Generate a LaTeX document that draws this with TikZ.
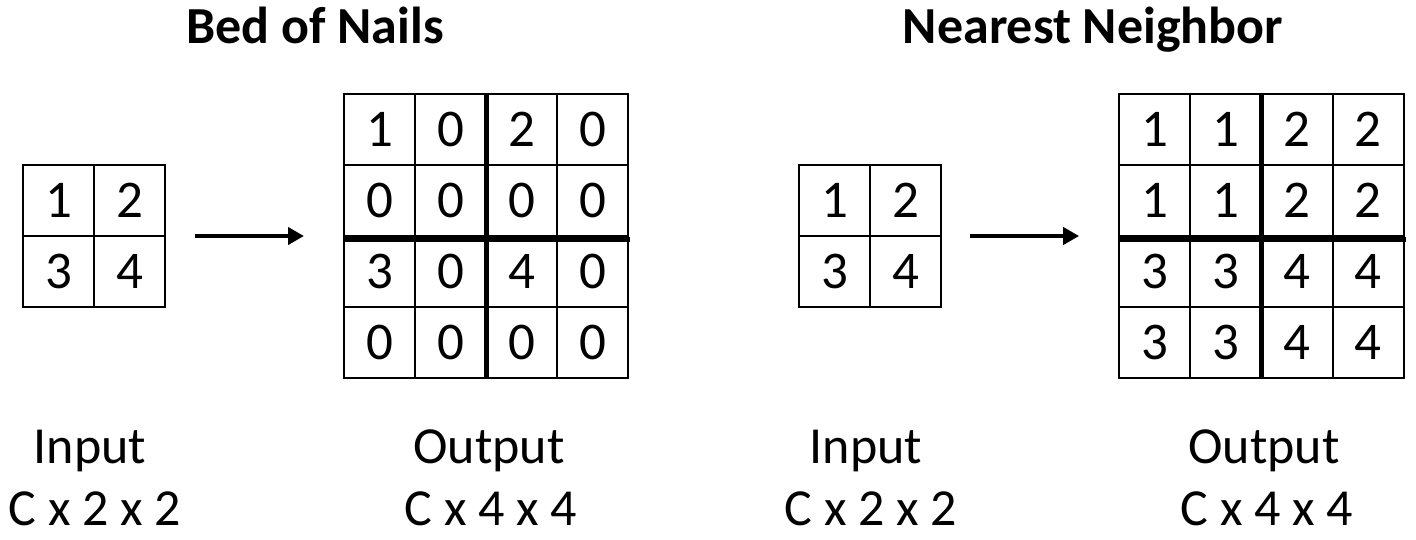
\documentclass[tikz,border=0pt]{standalone}
\usepackage{fontspec}
\setmainfont{Carlito}
\usetikzlibrary{arrows.meta}
\begin{document}
\begin{tikzpicture}[x=1pt,y=-1pt,
  cell/.style={draw,line width=1.5pt,minimum width=71pt,minimum height=71pt,inner sep=0pt,outer sep=0pt,font=\fontsize{53}{63}\selectfont},
  heavyline/.style={line width=5pt},
  lbl/.style={font=\fontsize{52}{63}\selectfont,anchor=base,inner sep=0pt},
  ttl/.style={font=\fontsize{52}{63}\selectfont\bfseries,anchor=base,inner sep=0pt},
  arr/.style={line width=4.5pt,-{Triangle[length=16pt,width=17pt]}}]
\useasboundingbox (0,0) rectangle (1416,539);
% titles
\node[ttl] (t1) at (315,43) {Bed of Nails};
\node[ttl] (t2) at (1093,43) {Nearest Neighbor};
% left input grid
\foreach \v [count=\i from 0] in {1,2,3,4}{
  \pgfmathtruncatemacro\r{int(\i/2)+1}
  \pgfmathtruncatemacro\c{mod(\i,2)+1}
  \node[cell] (a\r\c) at ({23+71*(\c-0.5)},{165+71*(\r-0.5)}) {\v};
}
% left output grid
\foreach \v [count=\i from 0] in {1,0,2,0,0,0,0,0,3,0,4,0,0,0,0,0}{
  \pgfmathtruncatemacro\r{int(\i/4)+1}
  \pgfmathtruncatemacro\c{mod(\i,4)+1}
  \node[cell] (b\r\c) at ({344+71*(\c-0.5)},{94+71*(\r-0.5)}) {\v};
}
\draw[heavyline] (b12.north east) -- (b42.south east);
\draw[heavyline] ([yshift=-3pt]b21.south west) -- ([yshift=-3pt,xshift=2pt]b24.south east);
\draw[arr] ([xshift=30pt]a22.north east) -- ([xshift=-40pt]b31.north west);
% right input grid
\foreach \v [count=\i from 0] in {1,2,3,4}{
  \pgfmathtruncatemacro\r{int(\i/2)+1}
  \pgfmathtruncatemacro\c{mod(\i,2)+1}
  \node[cell] (c\r\c) at ({799+71*(\c-0.5)},{165+71*(\r-0.5)}) {\v};
}
% right output grid
\foreach \v [count=\i from 0] in {1,1,2,2,1,1,2,2,3,3,4,4,3,3,4,4}{
  \pgfmathtruncatemacro\r{int(\i/4)+1}
  \pgfmathtruncatemacro\c{mod(\i,4)+1}
  \node[cell] (d\r\c) at ({1119+71.25*(\c-0.5)},{94+71*(\r-0.5)}) {\v};
}
\draw[heavyline] (d12.north east) -- (d42.south east);
\draw[heavyline] ([yshift=-3pt]d21.south west) -- ([yshift=-3pt,xshift=2pt]d24.south east);
\draw[arr] ([xshift=29pt]c22.north east) -- ([xshift=-40pt]d31.north west);
% labels
\node[lbl] (inA) at (90,463) {Input};
\node[lbl] (dimA) at (95,525) {C x 2 x 2};
\node[lbl] (outA) at (489,463) {Output};
\node[lbl] (dimB) at (491,525) {C x 4 x 4};
\node[lbl] (inB) at (866,463) {Input};
\node[lbl] (dimC) at (871,525) {C x 2 x 2};
\node[lbl] (outB) at (1264,463) {Output};
\node[lbl] (dimD) at (1267,525) {C x 4 x 4};
\end{tikzpicture}
\end{document}
